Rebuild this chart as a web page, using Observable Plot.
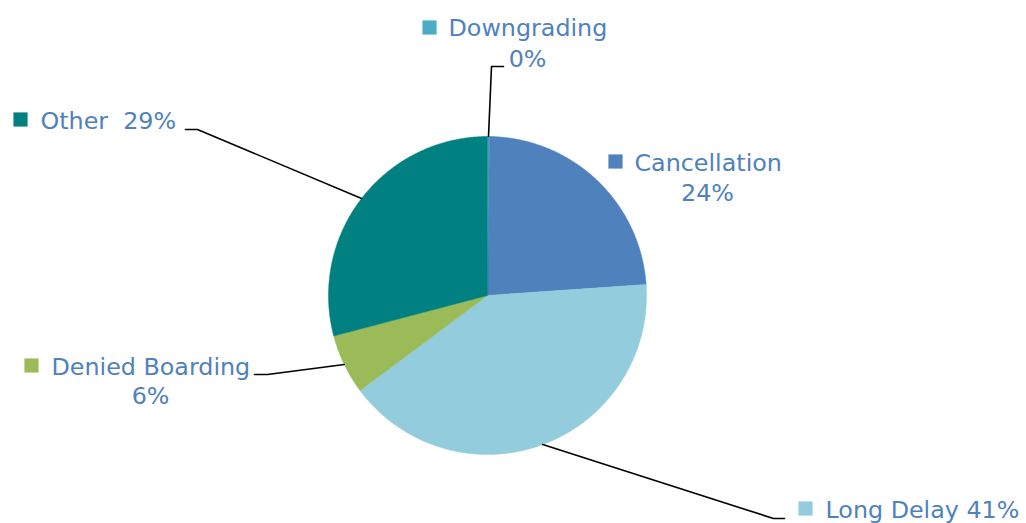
<!DOCTYPE html>
<html>
<head>
<meta charset="utf-8">
<script src="https://cdn.jsdelivr.net/npm/d3@7"></script>
<script src="https://cdn.jsdelivr.net/npm/@observablehq/plot@0.6"></script>
<style>
  html, body { margin: 0; padding: 0; background: #ffffff; }
  #chart { width: 1026px; height: 523px; }
</style>
</head>
<body>
<div id="chart"></div>
<script>
// ---- data ----
const categories = ["Downgrading", "Cancellation", "Long Delay", "Denied Boarding", "Other"];
const shares = [0.2, 23.7, 40.9, 6.1, 29.1];
const pctLabels = ["0%", "24%", "41%", "6%", "29%"];
const colors = ["#4bacc6", "#4f81bd", "#93cddd", "#9bbb59", "#008080"];

// ---- layout (pixel positions, separate from data) ----
const W = 1026, H = 523;
const cx = 487, cy = 295, R = 159;
const FS = 23.8;
const textColor = "#4f81bd";
const layout = {
  "Downgrading":     {marker: [429, 27],  lines: [["name", 448, 35, "start"], ["pct", 527, 66, "middle"]], elbow: [491, 66],  end: [503, 66]},
  "Cancellation":    {marker: [615, 161], lines: [["name", 634, 170, "start"], ["pct", 707, 200, "middle"]], elbow: null, end: null},
  "Long Delay":      {marker: [805, 508], lines: [["both1", 825, 517, "start"]], elbow: [773, 518], end: [784, 518]},
  "Denied Boarding": {marker: [31, 365],  lines: [["name", 51, 374, "start"], ["pct", 150, 403, "middle"]], elbow: [267, 374], end: [254, 374]},
  "Other":           {marker: [20, 119],  lines: [["both2", 40, 128, "start"]], elbow: [197, 129], end: [185, 129]}
};

// ---- build ----
const arcs = d3.pie().sort(null).value(d => d)(shares);
const pt = (a, r) => ({x: cx + r * Math.sin(a), y: cy - r * Math.cos(a)});

const marks = [];
arcs.forEach((arc, i) => {
  const pts = [{x: cx, y: cy}];
  const n = Math.max(2, Math.ceil((arc.endAngle - arc.startAngle) / (Math.PI / 360)));
  for (let k = 0; k <= n; k++) {
    pts.push(pt(arc.startAngle + (arc.endAngle - arc.startAngle) * k / n, R));
  }
  marks.push(Plot.line(pts, {x: "x", y: "y", fill: colors[i], stroke: colors[i], strokeWidth: 0.5, curve: "linear-closed"}));
});

// leader lines
arcs.forEach((arc, i) => {
  const L = layout[categories[i]];
  if (!L.elbow) return;
  const mid = (arc.startAngle + arc.endAngle) / 2;
  const pts = [pt(mid, R), {x: L.elbow[0], y: L.elbow[1]}, {x: L.end[0], y: L.end[1]}];
  marks.push(Plot.line(pts, {x: "x", y: "y", stroke: "#000000", strokeWidth: 1.6}));
});

// markers and labels
const markerData = categories.map((c, i) => ({x: layout[c].marker[0], y: layout[c].marker[1], c: colors[i]}));
marks.push(Plot.dot(markerData, {x: "x", y: "y", symbol: "square", r: 8, fill: d => d.c, stroke: null}));

const textData = [];
categories.forEach((c, i) => {
  layout[c].lines.forEach(([kind, x, y, anchor]) => {
    let t;
    if (kind === "name") t = c;
    else if (kind === "pct") t = pctLabels[i];
    else if (kind === "both1") t = c + " " + pctLabels[i];
    else t = c + "  " + pctLabels[i];
    textData.push({x, y, t, anchor});
  });
});
["start", "middle"].forEach(anchor => {
  marks.push(Plot.text(textData.filter(d => d.anchor === anchor), {
    x: "x", y: "y", text: "t", textAnchor: anchor, lineAnchor: "bottom",
    fill: textColor, fontSize: FS, fontFamily: "DejaVu Sans"
  }));
});

const chart = Plot.plot({
  width: W, height: H,
  margin: 0,
  x: {type: "linear", domain: [0, W], range: [0, W], axis: null},
  y: {type: "linear", domain: [0, H], range: [0, H], axis: null},
  style: {background: "#ffffff", overflow: "visible", whiteSpace: "pre"},
  marks
});
document.getElementById("chart").appendChild(chart);
</script>
</body>
</html>
